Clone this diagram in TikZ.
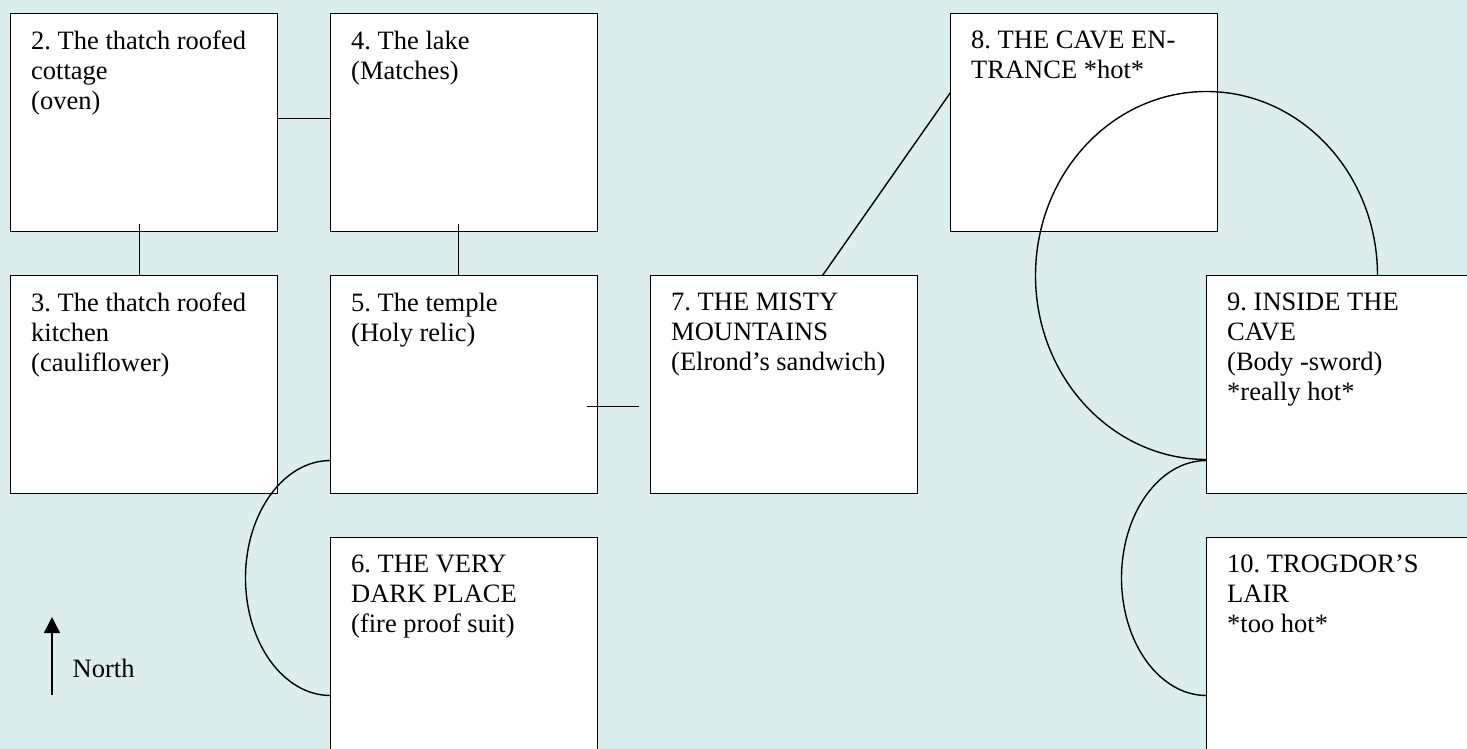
\documentclass[tikz,border=0pt]{standalone}
\usepackage{fontspec}
\setmainfont{Liberation Serif}
\frenchspacing
\usetikzlibrary{positioning}
\usetikzlibrary{arrows.meta}
\definecolor{mapbg}{RGB}{219,238,237}

\begin{document}
\begin{tikzpicture}[x=0.5pt,y=-0.5pt,line width=0.7pt,
            room/.style={rectangle,draw,line width=0.75pt,fill=white,minimum width=133.5pt,minimum height=109pt,inner sep=0pt,outer sep=0pt},
            room text/.style={anchor=north west,align=left,inner xsep=10pt,inner ysep=8.5pt,
                font=\fontsize{13.25}{15}\selectfont}
            ]

            \path[use as bounding box,fill=mapbg] (0,0) rectangle (1467,749);
            \clip (0,0) rectangle (1467,749);

            \node[room,anchor=north west,label={[room text]north west:{2. The thatch roofed\\cottage\\(oven)}}](2) at (10.5,13.5){};
            \node[room,label={[room text]north west:{4. The lake\\(Matches)}}](4)[right=26.5pt of 2]{};
            \node[room,label={[room text]north west:{8. THE CAVE EN-\\TRANCE *hot*}}](8)[right=176.5pt of 4]{};

            \node[room,label={[room text]north west:{3. The thatch roofed\\kitchen\\(cauliflower)}}](3)[below=22pt of 2]{};
            \node[room,label={[room text]north west:{5. The temple\\(Holy relic)}}](5)[below=22pt of 4]{};
            \node[room,label={[room text]north west:{7. THE MISTY\\MOUNTAINS\\(Elrond’s sandwich)}}](7)[right=26.5pt of 5]{};
            \node[room,label={[room text]north west:{9. INSIDE THE\\CAVE\\(Body -sword)\\*really hot*}}](9)[right=144.5pt of 7]{};

            \node[room,label={[room text]north west:{6. THE VERY\\DARK PLACE\\(fire proof suit)}}](6)[below=22pt of 5]{};
            \node[room,label={[room text]north west:{10. TROGDOR’S\\LAIR\\*too hot*}}](10)[below=22pt of 9]{};

            % straight passages
            \draw ([yshift=2pt]2.east) -- ([yshift=2pt]4.west);
            \draw ([xshift=-2.25pt,yshift=4pt]2.south) -- ([xshift=-2.25pt]3.north);
            \draw ([xshift=-2.75pt,yshift=4pt]4.south) -- ([xshift=-2.75pt]5.north);
            \draw ([xshift=-5.5pt,yshift=-11pt]5.east) -- ([xshift=-6pt,yshift=-11pt]7.west);
            \draw ([xshift=19.25pt]7.north) -- ([yshift=15pt]8.west);

            % curved passages
            \draw ([xshift=85.5pt]9.north west) arc[start angle=0,end angle=270,x radius=85.5pt,y radius=92pt];
            \draw ([yshift=16.5pt]5.south west) arc[start angle=90,end angle=270,x radius=42.5pt,y radius=58.75pt];
            \draw ([yshift=16.5pt]9.south west) arc[start angle=90,end angle=270,x radius=42.5pt,y radius=58.75pt];

            % compass
            \coordinate (tail) at (52,695);
            \coordinate (head) at (52,617);
            \draw[-{Triangle[width=8pt,length=8pt]}] (tail) -- (head);
            \node[anchor=base west,inner sep=0pt,font=\fontsize{13.25}{15}\selectfont](north) at (72,677){North};

        \end{tikzpicture}
\end{document}
